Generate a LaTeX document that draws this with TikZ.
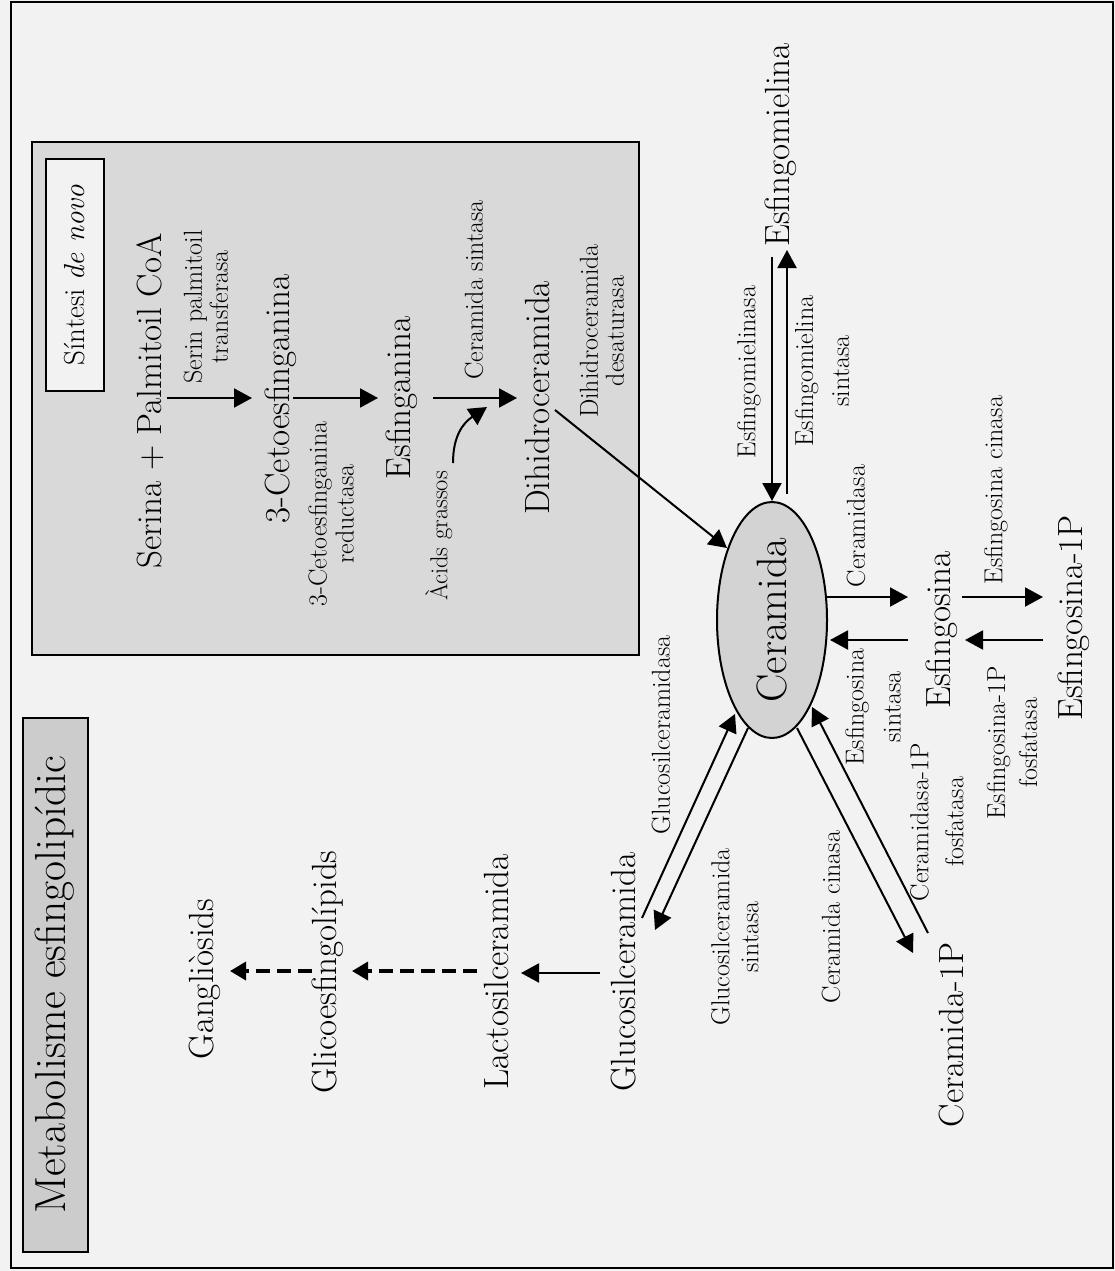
\documentclass[tikz,border=0pt]{standalone}
\usepackage{fontspec}
\usetikzlibrary{arrows.meta,shapes.geometric,calc}
\definecolor{bggray}{HTML}{F2F2F2}
\definecolor{boxgray}{HTML}{D9D9D9}
\definecolor{headgray}{HTML}{CCCCCC}
\definecolor{cergray}{HTML}{D3D3D3}

\begin{document}
\begin{tikzpicture}[x=1pt, y=-1pt,
    metab/.style={rotate=90, inner sep=0pt, font=\fontsize{35}{38}\selectfont},
    enz/.style={rotate=90, inner sep=0pt, align=center, font=\fontsize{26}{26}\selectfont},
    arr/.style={line width=2pt, -{Triangle[length=18pt,width=19pt]}},
    dasharr/.style={line width=3.5pt, dash pattern=on 14pt off 7pt, -{Triangle[length=16pt,width=18pt]}}]
    \useasboundingbox (0,0) rectangle (1115,1271);
    \fill[bggray] (0,0) rectangle (1115,1271);
    \draw[line width=2pt] (11,2) rectangle (1113,1268);
    \draw[line width=2pt, fill=boxgray] (32,142) rectangle (639,655);

    \node[draw, line width=2pt, fill=headgray, rotate=90, minimum width=534pt, minimum height=65pt, font=\fontsize{43.5}{46}\selectfont] (titol) at (55,985) {Metabolisme esfingolipídic};
    \node[draw, line width=2pt, fill=bggray, rotate=90, minimum width=232pt, minimum height=58pt, font=\fontsize{29}{31}\selectfont] (novo) at (75,275) {Síntesi \textit{de novo}};

    % metabolits
    \node[metab] (serina) at (150,401) {Serina + Palmitoil CoA};
    \node[metab] (ceto) at (281,399) {3-Cetoesfinganina};
    \node[metab] (esfinganina) at (402,398) {Esfinganina};
    \node[metab] (dihidro) at (537,398) {Dihidroceramida};
    \node[ellipse, draw, line width=2pt, fill=cergray, rotate=90, minimum width=236pt, minimum height=110pt, inner sep=0pt, font=\fontsize{42.5}{45}\selectfont] (ceramida) at (772,620) {Ceramida};
    \node[metab] (esfingomielina) at (781,145) {Esfingomielina};
    \node[metab] (esfingosina) at (942,630) {Esfingosina};
    \node[metab] (esf1p) at (1074,618) {Esfingosina-1P};
    \node[metab] (ceram1p) at (952,1035) {Ceramida-1P};
    \node[metab] (glucosil) at (624,972) {Glucosilceramida};
    \node[metab] (lactosil) at (496,972) {Lactosilceramida};
    \node[metab] (glicoesf) at (328,972) {Glicoesfingolípids};
    \node[metab] (gangliosids) at (205,979) {Gangliòsids};

    % enzims
    \node[enz] (lspt) at (206,307) {Serin palmitoil\\transferasa};
    \node[enz] (lcr) at (331,514) {3-Cetoesfinganina\\[1pt]reductasa};
    \node[enz] (lcs) at (474,290) {Ceramida sintasa};
    \node[enz, font=\fontsize{24.5}{26}\selectfont] (acids) at (439,536) {Àcids grassos};
    \node[enz] (ldd) at (602,331) {Dihidroceramida\\desaturasa};
    \node[enz] (lsmase) at (749,372) {Esfingomielinasa};
    \node[enz] (lsms) at (822,371) {Esfingomielina\\[10pt]sintasa};
    \node[enz] (lss) at (873,707) {Esfingosina\\[11pt]sintasa};
    \node[enz] (lcerase) at (856,526) {Ceramidasa};
    \node[enz] (lsk) at (996,490) {Esfingosina cinasa};
    \node[enz] (lspp) at (1012,743) {Esfingosina-1P\\[6pt]fosfatasa};
    \node[enz] (lgcase) at (661,735) {Glucosilceramidasa};
    \node[enz] (lgcs) at (735,937) {Glucosilceramida\\[3pt]sintasa};
    \node[enz] (lck) at (831,917) {Ceramida cinasa};
    \node[enz] (lcpp) at (937,822) {Ceramidasa-1P\\[9pt]fosfatasa};

    % reaccions
    \draw[arr] ($(serina)+(17,-3)$) -- ($(ceto)+(-29,-1)$);
    \draw[arr] ($(ceto)+(12,-1)$) -- ($(esfinganina)+(-24,0)$);
    \draw[arr] ($(esfinganina)+(31,0)$) -- ($(dihidro)+(-20,0)$);
    \draw[arr] ($(acids)+(14,-73)$) .. controls ($(acids)+(14,-100)$) and ($(acids)+(24,-113)$) .. ($(dihidro)+(-50,9)$);
    \draw[arr] ($(dihidro)+(18,12)$) -- ($(ceramida)+(-45,-72)$);
    \draw[arr] ($(esfingomielina)+(-9,112)$) -- ($(ceramida)+(0,-119)$);
    \draw[arr] ($(ceramida)+(15,-126)$) -- ($(esfingomielina)+(6,105)$);
    \draw[arr] ($(ceramida)+(55,-23)$) -- ($(esfingosina)+(-34,-33)$);
    \draw[arr] ($(esfingosina)+(-34,10)$) -- ($(ceramida)+(58,20)$);
    \draw[arr] ($(esfingosina)+(20,-33)$) -- ($(esf1p)+(-31,-21)$);
    \draw[arr] ($(esf1p)+(-31,22)$) -- ($(esfingosina)+(23,10)$);
    \draw[arr] ($(glucosil)+(18,-54)$) -- ($(ceramida)+(-37,94)$);
    \draw[arr] ($(ceramida)+(-24,108)$) -- ($(glucosil)+(31,-42)$);
    \draw[arr] ($(ceramida)+(25,108)$) -- ($(ceram1p)+(-39,-82)$);
    \draw[arr] ($(ceram1p)+(-24,-102)$) -- ($(ceramida)+(40,87)$);
    \draw[arr] ($(glucosil)+(-24,1)$) -- ($(lactosil)+(25,1)$);
    \draw[dasharr] ($(lactosil)+(-19,-1)$) -- ($(glicoesf)+(24,-1)$);
    \draw[dasharr] ($(glicoesf)+(-16,-1)$) -- ($(gangliosids)+(25,-8)$);
\end{tikzpicture}
\end{document}
